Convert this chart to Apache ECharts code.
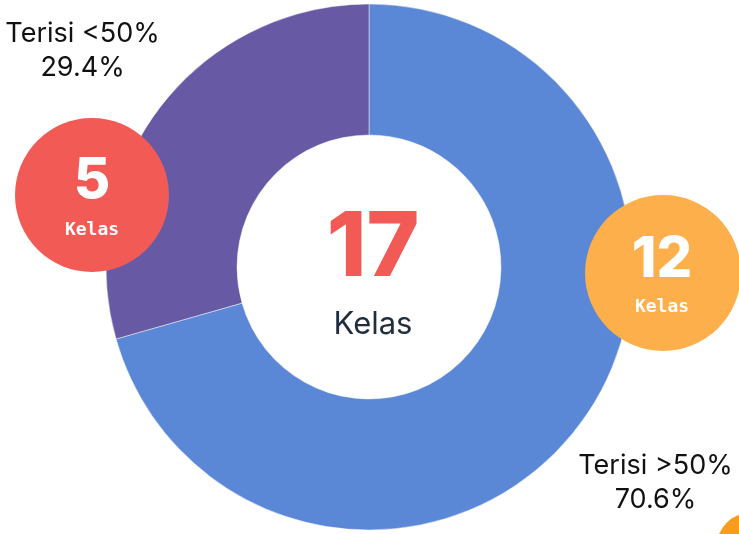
<!DOCTYPE html>
<html>
<head>
<meta charset="utf-8">
<script src="https://cdn.jsdelivr.net/npm/echarts@6/dist/echarts.min.js"></script>
<style>
  html, body { margin: 0; padding: 0; background: #fff; }
  #main { width: 739px; height: 534px; }
</style>
</head>
<body>
<div id="main"></div>
<script>
// data
const categories = ['Terisi >50%', 'Terisi <50%']
const kelasValues = [12, 5]
const sliceColors = ['#5B87D7', '#6759A3']
const unitLabel = 'Kelas'

const total = kelasValues.reduce((a, b) => a + b, 0)
const pieData = categories.map((name, i) => ({ name: name, value: kelasValues[i] }))

let chart = echarts.init(document.getElementById('main'))

const monoFont = '"DejaVu Sans Mono", "Liberation Mono", monospace'
const sansFont = 'Inter, "Noto Sans", sans-serif'

// centered text helper
function txt(x, y, text, font, fill) {
  return {
    type: 'text', x: x, y: y, z: 10,
    style: { text: text, font: font, fill: fill, align: 'center', verticalAlign: 'middle' }
  }
}

chart.setOption({
  animation: false,
  color: sliceColors,
  series: [
    {
      // donut
      type: 'pie',
      center: [369, 267],
      radius: [132, 263],
      startAngle: 90,
      silent: true,
      itemStyle: {
        borderColor: 'rgba(255,255,255,0.45)',
        borderWidth: 1
      },
      label: { show: false },
      labelLine: { show: false },
      data: pieData
    },
    {
      // labels only, placed further out on each slice's mid angle
      type: 'pie',
      center: [369, 267],
      radius: [352, 360],
      startAngle: 90,
      percentPrecision: 1,
      silent: true,
      itemStyle: { color: 'rgba(0,0,0,0)' },
      label: {
        show: true,
        position: 'inside',
        formatter: '{b}\n{d}%',
        color: '#111',
        fontFamily: sansFont,
        fontSize: 27,
        lineHeight: 34,
        align: 'center'
      },
      labelLine: { show: false },
      data: pieData
    }
  ],
  graphic: [
    // center total
    txt(373, 249, String(total), '800 90px ' + sansFont, '#F15A55'),
    txt(373, 325, unitLabel, '400 31px ' + sansFont, '#1F2D3D'),
    // red circle (<50%)
    {
      type: 'circle', z: 5,
      shape: { cx: 92, cy: 195, r: 77 },
      style: { fill: '#F15A55' }
    },
    txt(92, 181, String(kelasValues[1]), '800 56px ' + sansFont, '#fff'),
    txt(92, 230, unitLabel, 'bold 18px ' + monoFont, '#fff'),
    // orange circle (>50%)
    {
      type: 'circle', z: 5,
      shape: { cx: 663, cy: 273, r: 78 },
      style: { fill: '#FDAF4B' }
    },
    txt(662, 260, String(kelasValues[0]), '800 56px ' + sansFont, '#fff'),
    txt(662, 307, unitLabel, 'bold 18px ' + monoFont, '#fff'),
    // bit of a shape peeking in at the bottom right
    {
      type: 'circle', z: 5,
      shape: { cx: 750, cy: 546, r: 33 },
      style: { fill: '#F79C1C' }
    }
  ]
})
</script>
</body>
</html>
